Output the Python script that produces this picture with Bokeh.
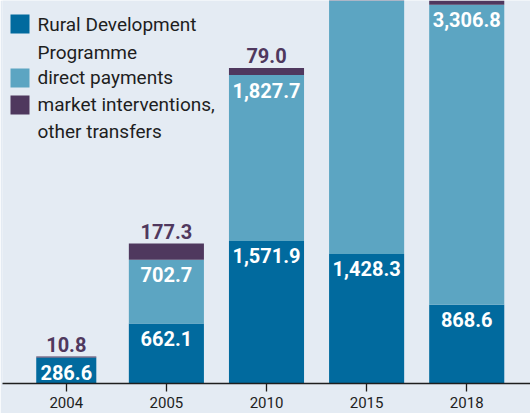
from bokeh.plotting import figure
from bokeh.models import ColumnDataSource, FactorRange, Range1d, Label, BoxAnnotation
from bokeh.core.properties import value
from bokeh.embed import file_html
from bokeh.resources import INLINE

# ---- data ----
years = ["2004", "2005", "2010", "2015", "2018"]
rural_development = [286.6, 662.1, 1571.9, 1428.3, 868.6]
direct_payments = [0.0, 702.7, 1827.7, 3100.0, 3306.8]
market_interventions = [10.8, 177.3, 79.0, 60.0, 60.0]
legend_lines = [["Rural Development", "Programme"], ["direct payments"],
                ["market interventions,", "other transfers"]]

# ---- styles ----
BG = "#e4ebf3"
C_RDP = "#016a9e"
C_DIR = "#5ca5c2"
C_MKT = "#4f385e"
TXT = "#1e1e1e"
FONT = "Roboto"
bar_widths = [0.6, 0.75, 0.75, 0.75, 0.75]
Y_TOP = 4222
FRAME_H = 383
PX = FRAME_H / Y_TOP  # pixels per unit
IN_OFF = 15
OUT_OFF = -12

source = ColumnDataSource(dict(year=years, rdp=rural_development,
                               direct=direct_payments, market=market_interventions,
                               w=bar_widths))

p = figure(width=530, height=413,
           x_range=FactorRange(factors=years, range_padding=0.137,
                               range_padding_units="absolute"),
           y_range=Range1d(0, Y_TOP),
           output_backend="svg", toolbar_location=None, y_axis_location=None,
           min_border_left=2, min_border_right=0, min_border_top=0,
           min_border_bottom=30,
           background_fill_color=BG, border_fill_color=BG,
           outline_line_color=None)

p.vbar_stack(["rdp", "direct", "market"], x="year", width="w", source=source,
             fill_color=[C_RDP, C_DIR, C_MKT], line_color=None)

# value labels (only those whose segment top lies inside the visible range)
ix, iy, it = [], [], []
for i, yr in enumerate(years):
    r = rural_development[i]
    d = direct_payments[i]
    if r <= Y_TOP:
        ix.append(yr); iy.append(r); it.append(f"{r:,.1f}")
    if d > 0 and r + d <= Y_TOP:
        ix.append(yr); iy.append(r + d); it.append(f"{d:,.1f}")
inner = ColumnDataSource(dict(x=ix, y=iy, t=it))
p.text(x="x", y="y", text="t", source=inner, text_color="white",
       text_font=value(FONT), text_font_size="20px", text_font_style="bold",
       text_align="center", text_baseline="middle", y_offset=IN_OFF)

ox, oy, ot = [], [], []
for i, yr in enumerate(years):
    top = rural_development[i] + direct_payments[i] + market_interventions[i]
    if top + 24 / PX <= Y_TOP:
        ox.append(yr); oy.append(top); ot.append(f"{market_interventions[i]:,.1f}")
outer = ColumnDataSource(dict(x=ox, y=oy, t=ot))
p.text(x="x", y="y", text="t", source=outer, text_color=C_MKT,
       text_font=value(FONT), text_font_size="20px", text_font_style="bold",
       text_align="center", text_baseline="middle", y_offset=OUT_OFF)

# axes
p.xgrid.visible = False
p.ygrid.visible = False
ax = p.xaxis[0]
ax.axis_line_color = TXT
ax.axis_line_width = 1.3
ax.major_tick_line_color = TXT
ax.major_tick_line_width = 1.3
ax.major_tick_out = 8
ax.major_tick_in = 0
ax.major_label_standoff = 5
ax.major_label_text_font = FONT
ax.major_label_text_font_size = "15px"
ax.major_label_text_color = TXT

# legend (manual)
sq_tops = [14, 68, 95]
line_y = [[24, 52], [77], [104, 131]]
for k, col in enumerate([C_RDP, C_DIR, C_MKT]):
    p.add_layout(BoxAnnotation(left=10, right=29, top=sq_tops[k], bottom=sq_tops[k] + 19,
                               left_units="canvas", right_units="canvas",
                               top_units="canvas", bottom_units="canvas",
                               fill_color=col, fill_alpha=1, line_color=None))
    for txt, yy in zip(legend_lines[k], line_y[k]):
        p.add_layout(Label(x=37, y=yy, x_units="canvas", y_units="canvas", text=txt,
                           text_font=FONT, text_font_size="19px", text_color=TXT,
                           text_baseline="middle", text_align="left"))

open("out.html", "w").write(file_html(p, INLINE))
